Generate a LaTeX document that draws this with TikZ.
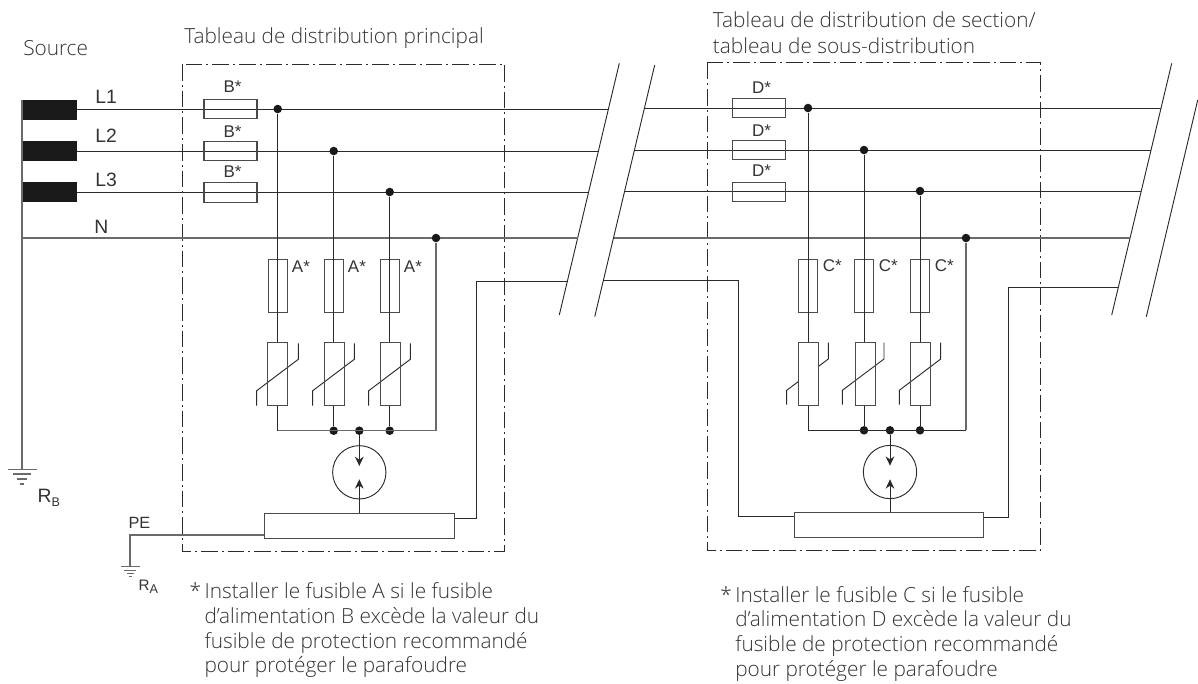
\documentclass[tikz,border=0pt]{standalone}
\usepackage{fontspec}
\usetikzlibrary{arrows.meta}
\setmainfont{Liberation Sans}
\newfontfamily\lightfont{Open Sans Light}
\definecolor{ink}{HTML}{2A2A2A}
\definecolor{txt}{HTML}{333333}
\tikzset{
  x=0.75pt,y=-0.75pt,
  wire/.style={draw=ink,line width=0.7pt},
  thick wire/.style={draw=ink!70,line width=0.9pt},
  boxwhite/.style={draw=ink!85,line width=0.75pt,fill=white,inner sep=0pt},
  fuseh/.style={draw=ink!85,line width=0.8pt,minimum width=39.75pt,minimum height=14.5pt,inner sep=0pt},
  fusev/.style={draw=ink!85,line width=0.8pt,minimum width=14.5pt,minimum height=40pt,inner sep=0pt},
  movbox/.style={boxwhite,minimum width=15pt,minimum height=47.25pt},
  pebox/.style={boxwhite,minimum width=142pt,minimum height=18.75pt},
  dashbox/.style={draw=ink,line width=0.7pt,dash pattern=on 12.5pt off 3pt on 1.5pt off 3pt},
  junction/.style={circle,fill=black!90,inner sep=0pt,minimum size=6.4pt},
  coil/.style={fill=black!90,inner sep=0pt,minimum width=41.25pt,minimum height=15pt},
  ring/.style={circle,draw=ink,line width=0.7pt,minimum size=40pt,inner sep=0pt},
  big lab/.style={font=\fontsize{14.5}{16}\selectfont,text=txt,inner sep=0pt,anchor=base west},
  lab/.style={font=\fontsize{12.7}{14}\selectfont,text=txt,inner sep=0pt,anchor=base west},
  small lab/.style={font=\fontsize{12.2}{14}\selectfont,text=txt,inner sep=0pt,anchor=base west},
  note/.style={font=\lightfont\fontsize{15.6}{18.5}\selectfont,text=txt,inner sep=0pt,anchor=base west,align=left},
  head/.style={font=\lightfont\fontsize{15.6}{19.3}\selectfont,text=txt,inner sep=0pt,anchor=base west,align=left},
  tip/.style={-{Stealth[length=7pt,width=6.5pt]}},
  breakline/.style={draw=ink,line width=0.7pt},
}
\newcommand{\starlead}{\makebox[11.25pt][l]{*}}
\newcommand{\noteindent}{\hspace*{11.25pt}}
\begin{document}
\begin{tikzpicture}
\useasboundingbox (0,0) rectangle (1198,683);
% source
\node[coil] (s1) at (49.5,110) {};
\node[coil] (s2) at (49.5,150.5) {};
\node[coil] (s3) at (49.5,191.8) {};
\coordinate (gb) at (22,469.5);
\coordinate (stop) at (22,100);
\draw[thick wire] (stop) -- (gb);
\draw[thick wire] (gb) ++(-14,0) -- ++(29,0);
\draw[thick wire] (gb) ++(-9,4.5) -- ++(18,0);
\draw[thick wire] (gb) ++(-5,9.5) -- ++(10,0);
\draw[thick wire] (gb) ++(-2,14.5) -- ++(4,0);
% breaks
\coordinate (b1a) at (619.3,63.3); \coordinate (b1b) at (559.3,315);
\coordinate (b2a) at (654.7,65); \coordinate (b2b) at (594.7,316.7);
\coordinate (b3a) at (1171.7,63.3); \coordinate (b3b) at (1111.7,315);
\coordinate (b4a) at (1197.7,100); \coordinate (b4b) at (1146.3,316.7);
\draw[breakline] (b1a) -- (b1b);
\draw[breakline] (b2a) -- (b2b);
\draw[breakline] (b3a) -- (b3b);
\draw[breakline] (b4a) -- (b4b);
% break end points
\coordinate (e1) at (609,109); \coordinate (e2) at (598.8,151); \coordinate (e3) at (588.8,192); \coordinate (eN) at (577.8,238); \coordinate (eP) at (567.8,281.3);
\coordinate (f1) at (644.7,108); \coordinate (f2) at (634.7,150); \coordinate (f3) at (624.8,191); \coordinate (fN) at (613.8,238); \coordinate (fP) at (603.8,280.7);
\coordinate (g1) at (1161,108); \coordinate (g2) at (1151,150); \coordinate (g3) at (1140.8,191); \coordinate (gN) at (1129.8,238); \coordinate (gP) at (1118,287.3);
% dashed boxes
\coordinate (d1) at (182,64); \coordinate (d2) at (504.5,551.6);
\coordinate (d3) at (707,62.3); \coordinate (d4) at (1040.3,550.3);
\draw[dashbox] (d1) rectangle (d2);
\draw[dashbox] (d3) rectangle (d4);
% phase lines
\coordinate (n0) at (22,238);
\draw[wire] (s1.east |- e1) -- (e1);
\draw[wire] (s2.east |- e2) -- (e2);
\draw[wire] (s3.east |- e3) -- (e3);
\draw[thick wire] (n0) -- (eN);
\draw[wire] (f1) -- (g1);
\draw[wire] (f2) -- (g2);
\draw[wire] (f3) -- (g3);
\draw[thick wire] (fN) -- (gN);
% series fuses
\node[fuseh] (fb1) at (230.5,109) {};
\node[fuseh] (fb2) at (230.5,151) {};
\node[fuseh] (fb3) at (230.5,192.5) {};
\node[fuseh] (fd1) at (759.3,108) {};
\node[fuseh] (fd2) at (759.3,150) {};
\node[fuseh] (fd3) at (759.3,191.7) {};
% first panel
\foreach \x in {277.7,333.7,389.7}{
  \draw[wire] (\x-21,405.5) -- (\x-21,390.7) -- (\x+20.6,359.3) -- (\x+20.6,343.3);
}
\node[movbox,fill=none] (ma1) at (277.7,374.2) {};
\node[movbox,fill=none] (ma2) at (334.7,374.2) {};
\node[movbox,fill=none] (ma3) at (390.7,374.2) {};
\node[junction] (ja1) at (277.7,109) {};
\node[junction] (ja2) at (333.7,151) {};
\node[junction] (ja3) at (389.7,192) {};
\node[fusev] (fa1) at (277.7,286) {};
\node[fusev] (fa2) at (333.7,286) {};
\node[fusev] (fa3) at (389.7,286) {};
\node[junction] (jn) at (436,238) {};
\coordinate (ba) at (277.7,430.7);
\node[junction] (jb2) at (333.7,430.7) {};
\node[junction] (jb3) at (359.3,430.7) {};
\node[junction] (jb4) at (389.7,430.7) {};
\coordinate (bb) at (436,430.7);
\draw[wire] (ja1) -- (ma1.north);
\draw[wire] (ja2) -- (ma2.north -| ja2);
\draw[wire] (ja3) -- (ma3.north -| ja3);
\draw[wire] (ma1.south) -- (ba);
\draw[wire] (ma2.south -| jb2) -- (jb2);
\draw[wire] (ma3.south -| jb4) -- (jb4);
\draw[thick wire] (ba) -- (bb) -- (jn);
\node[ring] (ra) at (359.3,472.3) {};
\node[pebox] (pa) at (359.6,525.8) {};
\draw[wire,tip] (jb3) -- (359.3,466);
\draw[wire,tip] (pa.north -| jb3) -- (359.3,479.3);
\coordinate (pe0) at (130,535);
\coordinate (ga) at (130,566.7);
\draw[thick wire] (ga) -- (pe0) -- (pa.west |- pe0);
\draw[thick wire] (ga) ++(-9.5,0) -- ++(19,0);
\draw[thick wire] (ga) ++(-6,3.7) -- ++(12,0);
\draw[thick wire] (ga) ++(-3.5,7) -- ++(7,0);
\draw[thick wire] (ga) ++(-1.5,10) -- ++(3,0);
\coordinate (oa1) at (476.7,518.3);
\draw[wire] (pa.east |- oa1) -- (oa1) -- (476.7,281.3) -- (eP);
% second panel
\draw[wire] (786.7,404.7) -- (786.7,390.3) -- (828.3,359) -- (828.3,342.7);
\draw[wire] (842.3,404.7) -- (842.3,390.3) -- (884,359) -- (884,342.7);
\draw[wire] (899.3,404.7) -- (899.3,390.3) -- (940.7,359) -- (940.7,342.7);
\node[movbox] (mc1) at (808,373.7) {};
\node[movbox,fill=none] (mc2) at (865,373.7) {};
\node[movbox,fill=none] (mc3) at (920.7,373.7) {};
\node[junction] (jc1) at (808,108) {};
\node[junction] (jc2) at (864,150) {};
\node[junction] (jc3) at (920,191) {};
\node[fusev] (fc1) at (808,285.8) {};
\node[fusev] (fc2) at (864,285.8) {};
\node[fusev] (fc3) at (920,285.8) {};
\node[junction] (jm) at (966,238) {};
\coordinate (bc) at (808,430.3);
\node[junction] (jd2) at (864,430.3) {};
\node[junction] (jd3) at (890,430.3) {};
\node[junction] (jd4) at (920,430.3) {};
\coordinate (bd) at (966,430.3);
\draw[wire] (jc1) -- (mc1.north);
\draw[wire] (jc2) -- (mc2.north -| jc2);
\draw[wire] (jc3) -- (mc3.north -| jc3);
\draw[wire] (mc1.south) -- (bc);
\draw[wire] (mc2.south -| jd2) -- (jd2);
\draw[wire] (mc3.south -| jd4) -- (jd4);
\draw[wire] (bc) -- (bd);
\draw[thick wire] (bd) -- (jm);
\node[ring] (rc) at (890,472) {};
\node[pebox] (pc) at (888.7,524.8) {};
\draw[wire,tip] (jd3) -- (890,465.7);
\draw[wire,tip] (pc.north -| jd3) -- (890,479.3);
\coordinate (oc1) at (1008.7,517.3);
\draw[wire] (pc.east |- oc1) -- (oc1) -- (1008.7,287.3) -- (gP);
\coordinate (ic1) at (738.3,516.3);
\draw[wire] (fP) -- (738.3,280.7) -- (ic1) -- (pc.west |- ic1);
% labels
\node[big lab] (tl1) at (95,103.3) {L1};
\node[big lab] (tl2) at (95,142.7) {L2};
\node[big lab] (tl3) at (95,186) {L3};
\node[big lab] (tn) at (94,233.3) {N};
\node[lab,anchor=base] (tb1) at (232.5,92.7) {B*};
\node[lab,anchor=base] (tb2) at (232.5,137.3) {B*};
\node[lab,anchor=base] (tb3) at (232.5,177.3) {B*};
\node[lab,anchor=base] (td1) at (761.5,93.3) {D*};
\node[lab,anchor=base] (td2) at (761.5,136) {D*};
\node[lab,anchor=base] (td3) at (761.5,176.7) {D*};
\node[lab] (ta1) at (291.7,272.3) {A*};
\node[lab] (ta2) at (347.7,272.3) {A*};
\node[lab] (ta3) at (403.7,272.3) {A*};
\node[lab] (tc1) at (822.7,271.7) {C*};
\node[lab] (tc2) at (878.7,271.7) {C*};
\node[lab] (tc3) at (934.7,271.7) {C*};
\node[big lab] (trb) at (37.3,502.7) {R\raisebox{-0.22em}{\fontsize{9.4}{9.4}\selectfont B}};
\node[small lab] (tpe) at (128.3,528) {PE};
\node[small lab,font=\fontsize{11.4}{13}\selectfont] (tra) at (138.3,590.7) {R\raisebox{-0.2em}{\fontsize{9.5}{9.5}\selectfont A}};
\node[head] (hs) at (23,55) {Source};
\node[head] (h1) at (184,43) {Tableau de distribution principal};
\node[head,anchor=north west] (h2) at (712.7,11.5) {Tableau de distribution de section/\\tableau de sous-distribution};
\node[note,anchor=north west] (n1) at (189.3,582.5) {\starlead Installer le fusible A si le fusible\\\noteindent d’alimentation B excède la valeur du\\\noteindent fusible de protection recommandé\\\noteindent pour protéger le parafoudre};
\node[note,anchor=north west] (n2) at (720,586) {\starlead Installer le fusible C si le fusible\\\noteindent d’alimentation D excède la valeur du\\\noteindent fusible de protection recommandé\\\noteindent pour protéger le parafoudre};
\end{tikzpicture}
\end{document}
